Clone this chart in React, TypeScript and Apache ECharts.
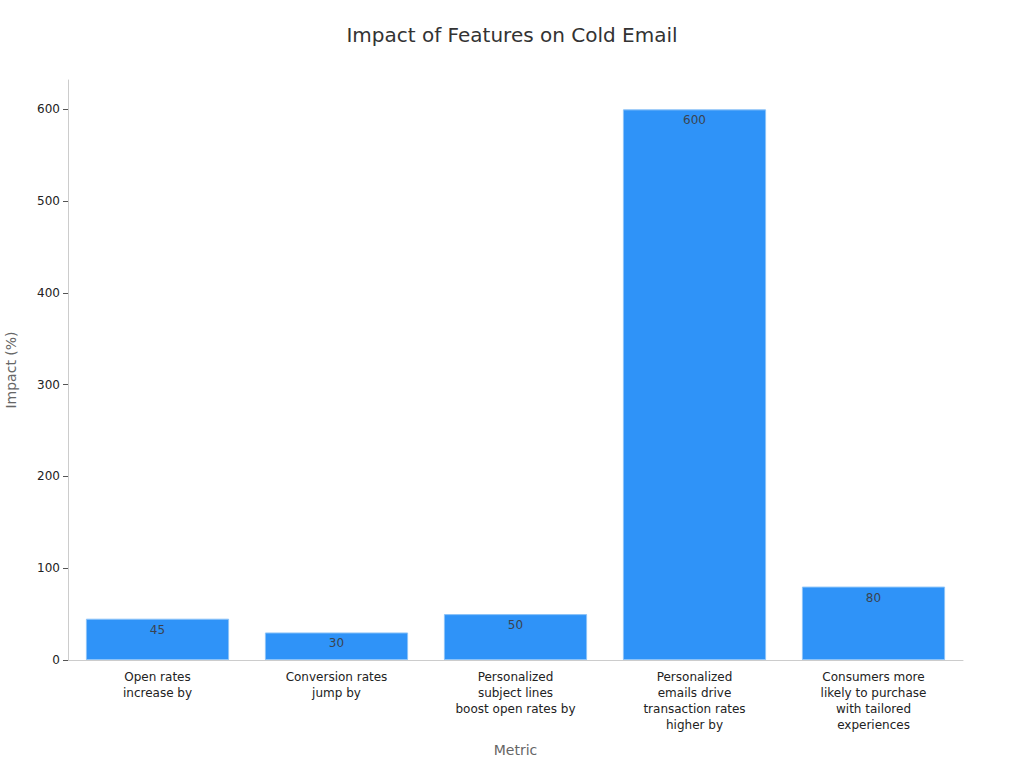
import React, { useEffect, useRef } from "react";
import * as echarts from "echarts";

const categories = [
  "Open rates\nincrease by",
  "Conversion rates\njump by",
  "Personalized\nsubject lines\nboost open rates by",
  "Personalized\nemails drive\ntransaction rates\nhigher by",
  "Consumers more\nlikely to purchase\nwith tailored\nexperiences",
];
const impactValues = [45, 30, 50, 600, 80];
const yTicks = [0, 100, 200, 300, 400, 500, 600];

export default function App() {
  const ref = useRef<HTMLDivElement>(null);
  useEffect(() => {
    if (!ref.current) return;
    const chart = echarts.init(ref.current, null, { renderer: "svg" });
    const font = "DejaVu Sans";
    chart.setOption({
      animation: false,
      backgroundColor: "#ffffff",
      textStyle: { fontFamily: font },
      title: {
        text: "Impact of Features on Cold Email",
        left: "center",
        top: 20,
        textStyle: { fontFamily: font, fontSize: 20, fontWeight: "normal", color: "#333" },
      },
      grid: { left: 68, right: 61, top: 80, bottom: 108, containLabel: false, outerBoundsMode: "none" },
      xAxis: {
        type: "category",
        data: categories,
        name: "Metric",
        nameLocation: "middle",
        nameGap: 83,
        nameTextStyle: { fontFamily: font, fontSize: 14, color: "#666" },
        axisLine: { lineStyle: { color: "#ccc" } },
        axisTick: { alignWithLabel: true, lineStyle: { color: "#555" }, length: 4 },
        axisLabel: { fontFamily: font, fontSize: 12, color: "#222", lineHeight: 16, margin: 9, interval: 0 },
      },
      yAxis: {
        type: "value",
        min: 0,
        max: 632,
        interval: 100,
        name: "Impact (%)",
        nameLocation: "middle",
        nameGap: 50,
        nameTextStyle: { fontFamily: font, fontSize: 14, color: "#666" },
        axisLine: { show: true, lineStyle: { color: "#ccc" } },
        axisTick: { show: true, length: 5, lineStyle: { color: "#555" }, customValues: yTicks },
        axisLabel: { fontFamily: font, fontSize: 12, color: "#222", margin: 8, customValues: yTicks },
        splitLine: { show: false },
      },
      series: [
        {
          type: "bar",
          data: impactValues,
          barCategoryGap: "20%",
          itemStyle: { color: "#2f93f8", borderColor: "#8cc3f8", borderWidth: 1 },
          label: {
            show: true,
            position: "insideTop",
            distance: 5,
            fontFamily: font,
            fontSize: 12,
            color: "#3a4350",
          },
        },
      ],
    });
    return () => chart.dispose();
  }, []);
  return (
    <div
      ref={ref}
      style={{ position: "fixed", left: 0, top: 0, width: 1024, height: 768 }}
    />
  );
}
